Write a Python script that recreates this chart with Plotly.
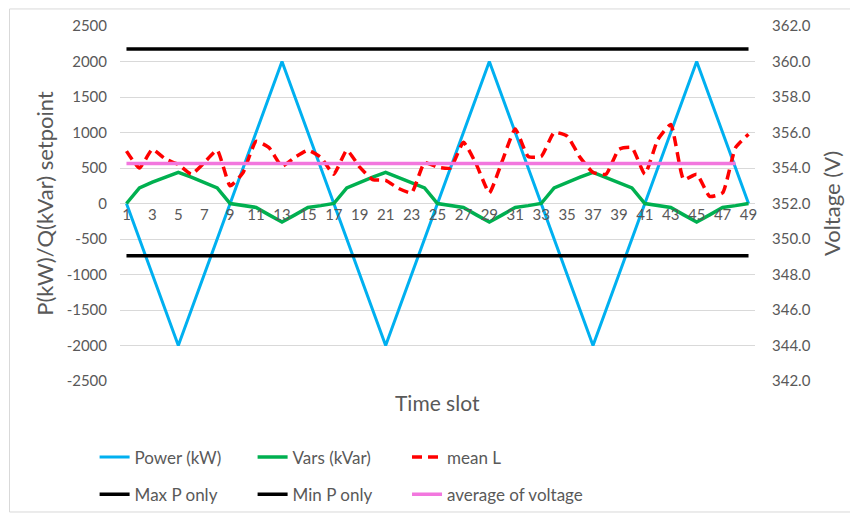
import plotly.graph_objects as go

# time slots 1..49
slots = list(range(1, 50))

power_kw = [0, -500, -1000, -1500, -2000, -1500, -1000, -500,
            0, 500, 1000, 1500, 2000, 1500, 1000, 500,
            0, -500, -1000, -1500, -2000, -1500, -1000, -500,
            0, 500, 1000, 1500, 2000, 1500, 1000, 500,
            0, -500, -1000, -1500, -2000, -1500, -1000, -500,
            0, 500, 1000, 1500, 2000, 1500, 1000, 500,
            0]

vars_kvar = [0, 220, 300, 370, 440, 370, 300, 220,
             0, -30, -55, -160, -260, -160, -55, -30,
             0, 220, 300, 370, 440, 370, 300, 220,
             0, -30, -55, -160, -260, -160, -55, -30,
             0, 220, 300, 370, 440, 370, 300, 220,
             0, -30, -55, -160, -260, -160, -55, -30,
             0]

mean_l = [354.95, 354.0, 355.05, 354.5, 354.2, 353.65, 354.3, 355.0,
          353.0, 353.75, 355.5, 355.15, 354.1, 354.6, 355.0, 354.6,
          353.65, 355.0, 354.05, 353.35, 353.3, 352.85, 352.6, 354.3,
          354.05, 354.0, 355.45, 354.2, 352.6, 354.4, 356.2, 354.65,
          354.65, 356.0, 355.8, 354.6, 353.75, 353.65, 355.05, 355.15,
          353.65, 355.6, 356.45, 353.35, 353.65, 352.4, 352.6, 355.15,
          355.9]

max_p_only = [360.7] * 49
min_p_only = [349.05] * 49
avg_voltage = [354.25] * 48

left_ticks = [-2500, -2000, -1500, -1000, -500, 0, 500, 1000, 1500, 2000, 2500]
right_ticks = [342, 344, 346, 348, 350, 352, 354, 356, 358, 360, 362]
x_ticks = list(range(1, 50, 2))

GRAY = "#595959"
FONT = "Lato, Carlito, Calibri, sans-serif"

fig = go.Figure()
fig.add_trace(go.Scatter(x=slots, y=power_kw, name="Power (kW)", mode="lines",
                         line=dict(color="#00B0F0", width=3)))
fig.add_trace(go.Scatter(x=slots, y=vars_kvar, name="Vars (kVar)", mode="lines",
                         line=dict(color="#00B050", width=3.5)))
fig.add_trace(go.Scatter(x=slots, y=mean_l, name="mean L", mode="lines", yaxis="y2",
                         legend="legend3",
                         line=dict(color="#FF0000", width=3.5, dash="10px,6px",
                                   shape="spline", smoothing=0.45)))
fig.add_trace(go.Scatter(x=slots, y=max_p_only, name="Max P only", mode="lines", yaxis="y2",
                         legend="legend2", line=dict(color="#000000", width=3.5)))
fig.add_trace(go.Scatter(x=slots, y=min_p_only, name="Min P only", mode="lines", yaxis="y2",
                         legend="legend2", line=dict(color="#000000", width=3.5)))
fig.add_trace(go.Scatter(x=slots[:48], y=avg_voltage, name="average of voltage", mode="lines",
                         yaxis="y2", legend="legend4",
                         line=dict(color="#F277DE", width=3.5)))

legend_style = dict(orientation="h", xanchor="left", yanchor="middle",
                    entrywidth=113, font=dict(size=17, color=GRAY), bgcolor="rgba(0,0,0,0)")
row1_y, row2_y = -0.215, -0.32
col1_x, col3_x = -0.04, 0.452

# page body has an 8px margin, so the figure is drawn 8px smaller and offset
fig.update_layout(
    width=850, height=509,
    margin=dict(l=112, r=103, t=18, b=136, autoexpand=False),
    paper_bgcolor="white", plot_bgcolor="white",
    font=dict(family=FONT, color=GRAY),
    xaxis=dict(range=[0.5, 49.5], tickvals=x_ticks, showgrid=False, zeroline=False,
               showline=False, anchor="free", position=0.5, ticks="", automargin=False,
               tickfont=dict(size=15, color=GRAY)),
    yaxis=dict(range=[-2500, 2500], tickvals=left_ticks,
               ticktext=[str(v) for v in left_ticks], showgrid=True,
               gridcolor="#D9D9D9", gridwidth=1, zeroline=False, showline=False,
               automargin=False, ticklabelstandoff=12, tickfont=dict(size=15, color=GRAY),
               title=dict(text="P(kW)/Q(kVar) setpoint", font=dict(size=22, color=GRAY),
                          standoff=6)),
    yaxis2=dict(range=[342, 362], tickvals=right_ticks, tickformat=".1f",
                overlaying="y", side="right", showgrid=False, zeroline=False,
                automargin=False, showline=False, ticklabelstandoff=16,
                tickfont=dict(size=15, color=GRAY),
                title=dict(text="Voltage (V)", font=dict(size=22, color=GRAY), standoff=14)),
    legend=dict(legend_style, x=col1_x, y=row1_y),
    legend2=dict(legend_style, x=col1_x, y=row2_y),
    legend3=dict(legend_style, x=col3_x, y=row1_y, entrywidth=0),
    legend4=dict(legend_style, x=col3_x, y=row2_y, entrywidth=0),
    showlegend=True,
)

fig.add_annotation(text="Time slot", xref="paper", yref="paper", x=0.5, y=-0.06,
                   yanchor="middle", showarrow=False, font=dict(size=21, color=GRAY))

fig.add_shape(type="rect", xref="paper", yref="paper",
              x0=-0.174, x1=1.152, y0=-0.369, y1=1.048,
              line=dict(color="#D9D9D9", width=1))

fig.write_html("out.html")
